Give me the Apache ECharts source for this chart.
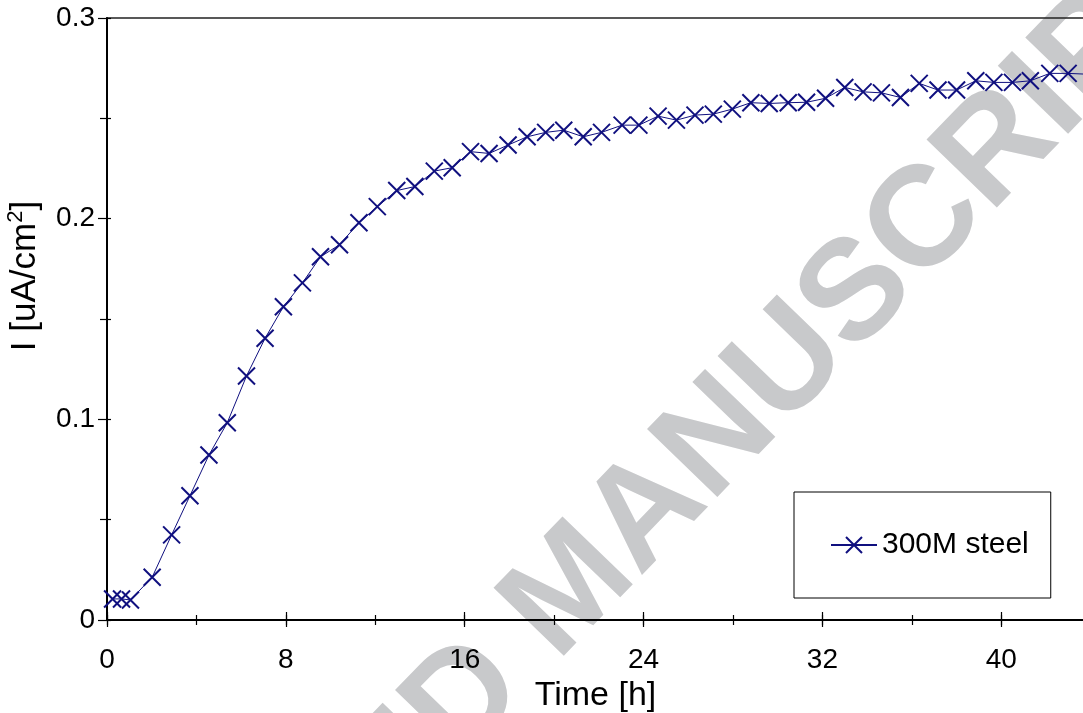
<!DOCTYPE html>
<html>
<head>
<meta charset="utf-8">
<script src="https://cdn.jsdelivr.net/npm/echarts@6/dist/echarts.min.js"></script>
<style>
html,body{margin:0;padding:0;background:#fff;}
#chart{width:1083px;height:713px;}
</style>
</head>
<body>
<div id="chart"></div>
<script>
// Data
const timeH = [0.25, 0.65, 1.05, 2.02, 2.89, 3.71, 4.56, 5.38, 6.24, 7.07, 7.89, 8.74, 9.55, 10.4, 11.27, 12.09, 12.96, 13.77, 14.64, 15.44, 16.26, 17.09, 17.94, 18.79, 19.62, 20.43, 21.30, 22.12, 23.04, 23.79, 24.65, 25.47, 26.3, 27.12, 27.97, 28.8, 29.62, 30.47, 31.29, 32.14, 33.0, 33.82, 34.64, 35.49, 36.33, 37.17, 38.0, 38.86, 39.67, 40.5, 41.3, 42.17, 42.99, 43.82];
const current = [0.0105, 0.0105, 0.0100, 0.0213, 0.0424, 0.0619, 0.0822, 0.0983, 0.1216, 0.1404, 0.1561, 0.168, 0.181, 0.187, 0.198, 0.206, 0.214, 0.216, 0.2237, 0.2254, 0.2334, 0.2325, 0.2367, 0.2408, 0.243, 0.2441, 0.2408, 0.243, 0.2466, 0.2466, 0.2511, 0.2491, 0.2516, 0.2521, 0.2546, 0.2578, 0.2574, 0.2578, 0.258, 0.26, 0.2654, 0.2632, 0.2627, 0.2604, 0.2674, 0.2641, 0.2641, 0.2687, 0.2679, 0.2679, 0.2687, 0.2724, 0.2724, 0.272];
const seriesName = '300M steel';
const xTitle = 'Time [h]';
const yTitle = 'I [uA/cm{s|2}]';
const watermark = 'ACCEPTED MANUSCRIPT';

const navy = '#10107f';
const FONT = '"Liberation Sans", Arial, sans-serif';
const xMin = 0, xMax = 43.7, xMajor = 8, xMinor = 4;
const yMin = 0, yMax = 0.3, yMajor = 0.1;

function xAxisBase(interval) {
  return {
    type: 'value', min: xMin, max: xMax, interval: interval, position: 'bottom',
    splitLine: {show: false},
    axisLine: {show: false, onZero: false},
    axisLabel: {show: false},
    axisTick: {show: true, lineStyle: {color: '#000', width: 1.2}}
  };
}
const x0 = xAxisBase(xMajor);
x0.axisLine = {show: true, onZero: false, lineStyle: {color: '#000', width: 2}};
x0.axisLabel = {show: true, margin: 26, fontSize: 28, color: '#000', fontFamily: FONT,
  formatter: v => (Math.abs(v % xMajor) < 1e-6 ? String(v) : '')};
x0.axisTick.length = 7;
x0.name = xTitle; x0.nameLocation = 'middle'; x0.nameGap = 39;
x0.nameTextStyle = {fontSize: 34, color: '#000', fontFamily: FONT};
const x1 = xAxisBase(xMajor); x1.axisTick.inside = true; x1.axisTick.length = 8;
const x2 = xAxisBase(xMinor); x2.axisTick.length = 5;
const x3 = xAxisBase(xMinor); x3.axisTick.inside = true; x3.axisTick.length = 5;

function yAxisBase() {
  return {
    type: 'value', min: yMin, max: yMax, interval: yMajor, position: 'left',
    splitLine: {show: false},
    axisLine: {show: false, onZero: false},
    axisLabel: {show: false},
    axisTick: {show: true, lineStyle: {color: '#000', width: 1.2}},
    minorTick: {show: true, splitNumber: 2, lineStyle: {color: '#000', width: 1.2}}
  };
}
const y0 = yAxisBase();
y0.axisLine = {show: true, onZero: false, lineStyle: {color: '#000', width: 2}};
y0.axisLabel = {show: true, margin: 12, fontSize: 28, color: '#000', fontFamily: FONT,
  formatter: v => String(Math.round(v * 10) / 10)};
y0.axisTick.length = 9; y0.minorTick.length = 7;
y0.name = yTitle; y0.nameLocation = 'middle'; y0.nameGap = 51; y0.nameRotate = 90;
y0.nameTextStyle = {fontSize: 35, color: '#000', fontFamily: FONT, lineHeight: 40, padding: [0, 0, 0, 86],
  rich: {s: {fontSize: 22, color: '#000', fontFamily: FONT, verticalAlign: 'top', lineHeight: 22}}};
const y1 = yAxisBase(); y1.axisTick.inside = true; y1.axisTick.length = 4; y1.minorTick.length = 4;

const chart = echarts.init(document.getElementById('chart'), null, {renderer: 'canvas', width: 1083, height: 713});
chart.setOption({
  animation: false,
  backgroundColor: '#fff',
  grid: {left: 107, top: 18, width: 977, height: 602, outerBoundsMode: 'none', containLabel: false,
    show: true, borderColor: '#222', borderWidth: 1.5},
  xAxis: [x0, x1, x2, x3],
  yAxis: [y0, y1],
  legend: {
    show: true, left: 794, top: 492, orient: 'vertical',
    padding: [38, 22, 38, 36],
    borderColor: '#000', borderWidth: 1, backgroundColor: 'transparent',
    itemWidth: 46, itemHeight: 20, itemGap: 8,
    textStyle: {fontSize: 30, color: '#000', fontFamily: FONT, lineHeight: 30},
    data: [seriesName]
  },
  graphic: [{
    type: 'text', x: 573, y: 590, rotation: 46 * Math.PI / 180, z: -100, silent: true,
    style: {text: watermark, fill: '#c8c9cb', font: 'bold 142px ' + FONT, align: 'center', verticalAlign: 'middle'}
  }],
  series: [{
    name: seriesName, type: 'line', xAxisIndex: 0, yAxisIndex: 0,
    data: timeH.map((t, i) => [t, current[i]]),
    symbol: 'path://M0,0L10,10M10,0L0,10', symbolSize: 17,
    showAllSymbol: true,
    itemStyle: {color: 'none', borderColor: navy, borderWidth: 2},
    lineStyle: {color: navy, width: 1},
    clip: true, z: 3
  }]
});
</script>
</body>
</html>
